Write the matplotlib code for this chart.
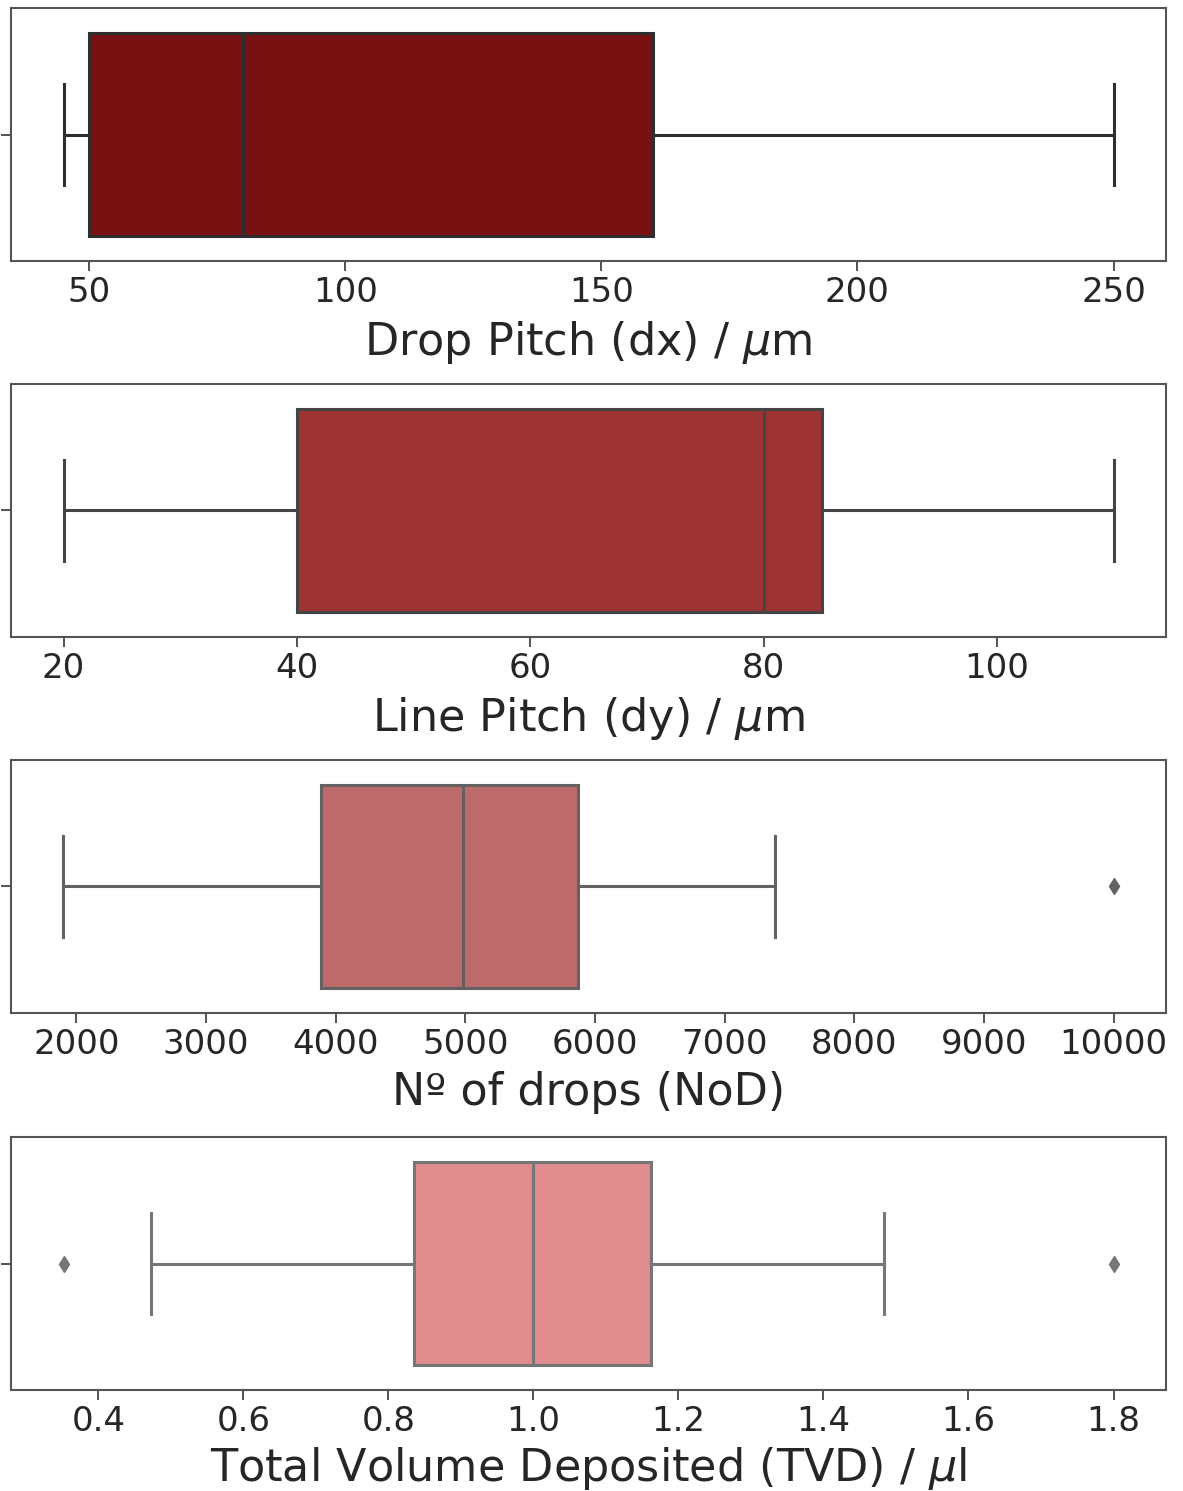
import matplotlib
matplotlib.use("Agg")
import matplotlib.pyplot as plt

# Data (five-number summaries)
labels = ["Drop Pitch (dx) / $\\mu$m", "Line Pitch (dy) / $\\mu$m",
          "Nº of drops (NoD)", "Total Volume Deposited (TVD) / $\\mu$l"]
whislo = [45, 20, 1900, 0.473]
q1 = [50, 40, 3890, 0.836]
med = [80, 80, 4985, 1.0]
q3 = [160, 85, 5870, 1.162]
whishi = [250, 110, 7390, 1.484]
fliers = [[], [], [10000], [0.352, 1.8]]
xticks = [[50, 100, 150, 200, 250],
          [20, 40, 60, 80, 100],
          [2000, 3000, 4000, 5000, 6000, 7000, 8000, 9000, 10000],
          [0.4, 0.6, 0.8, 1.0, 1.2, 1.4, 1.6, 1.8]]
xticklabels = [["50", "100", "150", "200", "250"],
               ["20", "40", "60", "80", "100"],
               ["2000", "3000", "4000", "5000", "6000", "7000", "8000", "9000", "10000"],
               ["0.4", "0.6", "0.8", "1.0", "1.2", "1.4", "1.6", "1.8"]]

fills = ["#781111", "#9e3333", "#be6a6a", "#e08b8d"]
edges = ["#2e2e2e", "#444444", "#626262", "#767676"]

W, H = 1183, 1491
fig = plt.figure(figsize=(W / 100, H / 100), dpi=100)
plt.rcParams['font.family'] = ['DejaVu Sans']
plt.rcParams['mathtext.fontset'] = 'dejavusans'

tops = [8, 384, 760, 1137]
ax_h = 253
left, right = 11, 1166
text_col = "#262626"

for i in range(4):
    ax = fig.add_axes([left / W, 1 - (tops[i] + ax_h) / H, (right - left) / W, ax_h / H])
    st = [dict(whislo=whislo[i], q1=q1[i], med=med[i], q3=q3[i],
               whishi=whishi[i], fliers=fliers[i])]
    ec = edges[i]
    lw = 2.2
    ax.bxp(st, positions=[0], widths=0.8, vert=False, patch_artist=True,
           boxprops=dict(facecolor=fills[i], edgecolor=ec, linewidth=lw),
           medianprops=dict(color=ec, linewidth=lw),
           whiskerprops=dict(color=ec, linewidth=lw),
           capprops=dict(color=ec, linewidth=lw),
           capwidths=0.4,
           flierprops=dict(marker='d', markersize=8.5, markerfacecolor=ec,
                           markeredgecolor=ec, linestyle='none'),
           manage_ticks=False)
    ax.set_ylim(0.5, -0.5)
    allv = [whislo[i], whishi[i]] + fliers[i]
    lo, hi = min(allv), max(allv)
    m = 0.05 * (hi - lo)
    ax.set_xlim(lo - m, hi + m)
    ax.set_yticks([0])
    ax.set_yticklabels([""])
    ax.set_xticks(xticks[i])
    ax.set_xticklabels(xticklabels[i])
    ax.tick_params(axis='x', labelsize=24.5, colors="#444444", labelcolor=text_col,
                   length=7, width=1.3, pad=4)
    ax.tick_params(axis='y', length=7, width=1.3, colors="#444444")
    for s in ax.spines.values():
        s.set_color("#555555")
        s.set_linewidth(1.5)
    ax.set_xlabel(labels[i], fontsize=32, color=text_col,
                  labelpad=5 if i == 3 else 7)

fig.savefig("out.png", dpi=100)
